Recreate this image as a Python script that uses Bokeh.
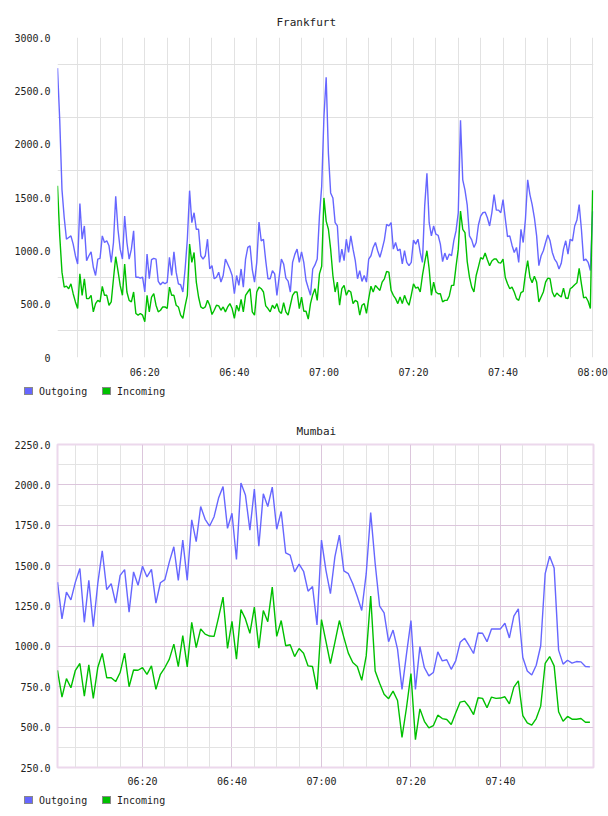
from bokeh.plotting import figure
from bokeh.models import Range1d, FixedTicker, Title, Div
from bokeh.layouts import column
from bokeh.embed import file_html
from bokeh.resources import INLINE

# ---------------- data ----------------
series_names = ["Outgoing", "Incoming"]

# Frankfurt: samples every 30 s starting 06:00:30
fra_start_min = 0.5
fra_step_min = 0.5
fra_outgoing = [
    2713, 2224, 1574, 1310, 1109, 1125, 1140, 1063, 954, 877,
    1443, 1109, 1233, 908, 954, 991, 846, 769, 923, 930,
    1140, 1078, 1094, 1047, 892, 1078, 1512, 1202, 1016, 923,
    1326, 1078, 923, 1016, 1187, 753, 753, 744, 753, 614,
    970, 738, 917, 930, 923, 713, 682, 707, 691, 707,
    939, 769, 991, 800, 691, 682, 614, 830, 1109, 1564,
    1264, 1357, 1202, 1202, 954, 923, 954, 1109, 830, 861,
    738, 753, 800, 707, 769, 923, 877, 830, 769, 598,
    769, 676, 830, 660, 923, 1032, 1047,
    824, 707, 892, 1270, 1094, 1109, 908, 738, 738, 815,
    784, 583, 753, 923, 877, 744, 716, 614, 892, 967,
    1016, 892, 991, 892, 722, 651, 583, 830, 868, 923,
    1326, 1604, 2255, 2626, 1914, 1543, 1496, 1264, 1233, 892,
    1016, 908, 1109, 985, 1140, 1016, 908, 738, 815, 713,
    769, 707, 923, 954, 1032, 1078, 1001, 939, 1016, 1103,
    1248, 1233, 1264, 1016, 1078, 1001, 1016, 877, 1001, 892,
    861, 892, 1100, 1063, 1109, 985, 892, 1419, 1728, 1264,
    1140, 1233, 1156,
    1146, 1063, 899, 979, 917, 970, 954, 1094, 1187, 1357,
    2224, 1666, 1570, 1428, 1140, 1103, 1032, 1078, 1242, 1326,
    1357, 1363, 1310, 1233, 1357, 1527, 1382, 1382, 1357, 1481,
    1301, 1134, 1140, 1053, 985, 1032, 892, 1202, 1078, 1295,
    1666, 1527, 1434, 1310, 1140, 861, 954, 1001, 1078, 1149,
    1094, 985, 923, 892, 830, 883, 1016, 1094, 970, 1109,
    1094, 1233, 1289, 1434, 1202, 908, 923, 892, 815, 1372,
]
fra_incoming = [
    1611, 1140, 800, 660, 669, 645, 691, 598, 521, 459,
    784, 583, 738, 552, 552, 583, 428, 505, 536, 521,
    666, 583, 583, 490, 521, 738, 945, 815, 676, 583,
    877, 614, 536, 521, 614, 413, 397, 413, 397, 335,
    583, 428, 567, 598, 490, 428, 443, 474, 474, 459,
    660, 583, 583, 490, 474, 397, 366, 484, 583, 1063,
    892, 985, 707, 567, 474, 459, 474, 536, 490, 403,
    443, 490, 484, 443, 474, 428, 474, 505, 459, 366,
    490, 434, 545, 428, 583, 614, 645,
    428, 397, 614, 660, 645, 614, 484, 459, 428, 490,
    459, 505, 434, 413, 515, 428, 397, 490, 583, 614,
    614, 459, 567, 434, 434, 360, 505, 589, 645, 536,
    784, 855, 1496, 1279, 1202, 1016, 769, 614, 707, 490,
    645, 676, 583, 629, 614, 505, 536, 521, 397, 490,
    505, 413, 552, 669, 614, 676, 651, 629, 707, 738,
    806, 800, 629, 583, 552, 505, 567, 505, 583, 527,
    490, 583, 691, 651, 660, 614, 769, 892, 1001, 830,
    583, 707, 614,
    598, 598, 521, 536, 536, 577, 676, 676, 855, 1016,
    1372, 1202, 1171, 899, 753, 660, 614, 769, 849, 936,
    923, 979, 917, 861, 905, 923, 923, 889, 886, 923,
    750, 691, 645, 660, 614, 552, 536, 608, 620, 784,
    908, 753, 700, 762, 707, 521, 567, 614, 707, 744,
    738, 614, 567, 604, 583, 567, 651, 558, 552, 645,
    660, 682, 700, 836, 691, 558, 567, 527, 459, 1567,
]

# Mumbai: samples every minute starting 06:01
mum_start_min = 1.0
mum_step_min = 1.0
mum_outgoing = [
    1398, 1170, 1336, 1288, 1398, 1482, 1149, 1409, 1122, 1388,
    1592, 1351, 1388, 1268, 1440, 1475, 1212, 1461, 1378, 1496,
    1430, 1477, 1268, 1394, 1413, 1523, 1617, 1409, 1658, 1409,
    1783, 1648, 1866, 1787, 1745, 1803, 1918, 1990, 1731, 1824,
    1538, 2011, 1938, 1720, 1974, 1621, 1945, 1866, 1986, 1725,
    1835, 1579, 1565, 1461, 1509, 1465, 1342, 1371, 1133, 1658,
    1471, 1326, 1554, 1689, 1467, 1450, 1388, 1309, 1222, 1450,
    1828, 1513, 1249, 1207, 1029, 1101, 983, 734, 952, 1160,
    734, 998, 869, 817, 838, 966, 910, 917, 858, 910,
    1025, 1050, 1004, 956, 1083, 1081, 1029, 1108, 1108, 1108,
    1143, 1052, 1187, 1232, 931, 848, 823, 883, 1004, 1450,
    1558, 1486, 977, 890, 914, 896, 906, 904, 875, 873,
]
mum_incoming = [
    852, 686, 800, 744, 852, 894, 692, 885, 678, 869,
    956, 806, 806, 782, 838, 958, 750, 854, 852, 869,
    827, 879, 734, 827, 869, 921, 1014, 875, 1066, 873,
    1149, 993, 1108, 1076, 1064, 1062, 1180, 1305, 987, 1155,
    921, 1228, 1170, 1081, 1243, 989, 1222, 1153, 1367, 1062,
    1160, 1004, 1010, 937, 987, 958, 879, 875, 734, 1166,
    1031, 894, 1025, 1160, 1056, 958, 900, 875, 790, 941,
    1311, 848, 771, 703, 676, 723, 665, 437, 620, 831,
    422, 613, 536, 495, 509, 574, 553, 547, 516, 588,
    655, 661, 626, 578, 682, 678, 620, 686, 678, 680,
    688, 644, 748, 786, 571, 526, 512, 553, 630, 894,
    937, 879, 595, 536, 566, 549, 549, 553, 530, 530,
]

x_tick_minutes = [20, 40, 60, 80, 100, 120]
x_tick_labels = ["06:20", "06:40", "07:00", "07:20", "07:40", "08:00"]

fra_y_ticks = [0, 500, 1000, 1500, 2000, 2500, 3000]
fra_y_labels = ["0", "500.0", "1000.0", "1500.0", "2000.0", "2500.0", "3000.0"]
mum_y_ticks = [250, 500, 750, 1000, 1250, 1500, 1750, 2000, 2250]
mum_y_labels = ["250.0", "500.0", "750.0", "1000.0", "1250.0", "1500.0",
                "1750.0", "2000.0", "2250.0"]

fra_x = [fra_start_min + fra_step_min * i for i in range(len(fra_outgoing))]
mum_x = [mum_start_min + mum_step_min * i for i in range(len(mum_outgoing))]

# ---------------- style ----------------
FONT = "DejaVu Sans Mono"
TXT = "#222222"
BLUE = "#6666ff"
GREEN = "#00c000"
series_colors = [BLUE, GREEN]


def base_fig(height, top, bottom, right, xr, yr):
    p = figure(width=608, height=height, output_backend="svg", toolbar_location=None,
               x_range=Range1d(*xr), y_range=Range1d(*yr),
               min_border_left=57, min_border_right=right,
               min_border_top=top, min_border_bottom=bottom)
    p.background_fill_color = "white"
    p.border_fill_color = "white"
    for ax in (p.xaxis[0], p.yaxis[0]):
        ax.axis_line_color = None
        ax.major_tick_line_color = None
        ax.minor_tick_line_color = None
        ax.major_tick_out = 0
        ax.major_tick_in = 0
        ax.minor_tick_out = 0
        ax.minor_tick_in = 0
        ax.major_label_text_font = FONT
        ax.major_label_text_font_size = "10px"
        ax.major_label_text_color = TXT
    p.yaxis[0].major_label_standoff = 7
    return p


def add_title(p, text, offset, standoff):
    t = Title(text=text, align="left", offset=offset, standoff=standoff,
              text_font=FONT, text_font_size="11px", text_font_style="normal",
              text_color=TXT)
    p.add_layout(t, "above")


def legend_div(height, top):
    swatch_x = [24, 102]
    parts = ['<div style="position:relative;width:608px;height:%dpx;margin:0;padding:0;'
             'font-family:\'DejaVu Sans Mono\',monospace;font-size:10px;color:%s;">'
             % (height, TXT)]
    for sx, name, col in zip(swatch_x, series_names, series_colors):
        parts.append('<div style="position:absolute;left:%dpx;top:%dpx;width:9px;height:8px;'
                     'background:%s;border:1px solid #888888;"></div>' % (sx, top, col))
        parts.append('<div style="position:absolute;left:%dpx;top:%dpx;line-height:12px;'
                     'white-space:nowrap;">%s</div>' % (sx + 15, top - 1, name))
    parts.append('</div>')
    return Div(text="".join(parts), width=608, height=height, margin=(0, 0, 0, 0))


# ---------------- Frankfurt ----------------
p1 = base_fig(380, 37, 22, 15, (0.5, 120.2), (0, 3000))
add_title(p1, "Frankfurt", 219, 18)
p1.outline_line_color = None
p1.xaxis[0].ticker = FixedTicker(ticks=x_tick_minutes)
p1.xaxis[0].major_label_overrides = dict(zip(x_tick_minutes, x_tick_labels))
p1.xaxis[0].major_label_standoff = 9
p1.yaxis[0].ticker = FixedTicker(ticks=fra_y_ticks)
p1.yaxis[0].major_label_overrides = dict(zip(fra_y_ticks, fra_y_labels))
p1.xgrid[0].ticker = FixedTicker(ticks=list(range(5, 121, 5)))
p1.ygrid[0].ticker = FixedTicker(ticks=list(range(250, 3000, 500)))
p1.xgrid[0].grid_line_color = "#e2e2e2"
p1.ygrid[0].grid_line_color = "#e0e0e0"
p1.line(fra_x, fra_outgoing, line_color=BLUE, line_width=1.4)
p1.line(fra_x, fra_incoming, line_color=GREEN, line_width=1.4)
l1 = legend_div(25, 7)

# ---------------- Mumbai ----------------
p2 = base_fig(384, 39, 22, 14, (1.0, 120.8), (250, 2250))
add_title(p2, "Mumbai", 239, 14)
p2.outline_line_color = "#ecd8ec"
p2.outline_line_width = 2
p2.xaxis[0].ticker = FixedTicker(ticks=x_tick_minutes[:-1])
p2.xaxis[0].major_label_overrides = dict(zip(x_tick_minutes, x_tick_labels))
p2.xaxis[0].major_label_standoff = 8
p2.yaxis[0].ticker = FixedTicker(ticks=mum_y_ticks)
p2.yaxis[0].major_label_overrides = dict(zip(mum_y_ticks, mum_y_labels))
p2.xgrid[0].ticker = FixedTicker(ticks=[20, 40, 60, 80, 100],
                                 minor_ticks=[m for m in range(5, 120, 5) if m % 20])
p2.ygrid[0].ticker = FixedTicker(ticks=mum_y_ticks,
                                 minor_ticks=list(range(375, 2250, 250)))
for g in (p2.xgrid[0], p2.ygrid[0]):
    g.grid_line_color = "#dcc6dc"
    g.minor_grid_line_color = "#e3e3e3"
p2.line(mum_x, mum_outgoing, line_color=BLUE, line_width=1.4)
p2.line(mum_x, mum_incoming, line_color=GREEN, line_width=1.4)
l2 = legend_div(27, 7)

layout = column(p1, l1, p2, l2, spacing=0)
open("out.html", "w").write(file_html(layout, INLINE))
